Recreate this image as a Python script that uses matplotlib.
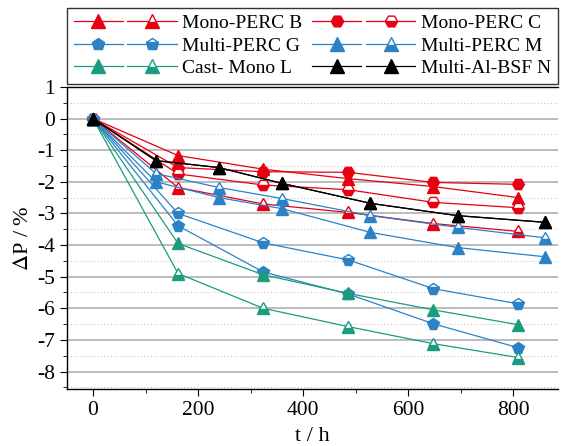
import matplotlib
matplotlib.use('Agg')
import matplotlib.pyplot as plt
from matplotlib.legend_handler import HandlerTuple
from matplotlib.ticker import MultipleLocator

plt.rcParams['font.family'] = ['Liberation Serif', 'DejaVu Serif']
plt.rcParams['mathtext.fontset'] = 'stix'
plt.rcParams['axes.unicode_minus'] = False

# time points (h)
t_a = [0, 162, 324, 486, 648, 810]
t_b = [0, 120, 240, 360, 528, 694, 860]

# power loss (%) -- filled = first measurement set, open = second
b_fill = [0, -1.17, -1.6, -1.9, -2.15, -2.5]
b_open = [0, -2.18, -2.7, -2.97, -3.32, -3.57]
c_fill = [0, -1.55, -1.68, -1.7, -2.02, -2.08]
c_open = [0, -1.75, -2.1, -2.25, -2.65, -2.82]
g_fill = [0, -3.39, -4.85, -5.55, -6.49, -7.25]
g_open = [0, -3.0, -3.93, -4.47, -5.38, -5.86]
m_fill = [0, -2.0, -2.5, -2.85, -3.6, -4.08, -4.37]
m_open = [0, -1.74, -2.18, -2.53, -3.07, -3.44, -3.77]
l_fill = [0, -3.95, -4.94, -5.53, -6.05, -6.52]
l_open = [0, -4.9, -6.0, -6.58, -7.12, -7.56]
n_fill = [0, -1.33, -1.55, -2.05, -2.68, -3.07, -3.28]

labels = ['Mono-PERC B', 'Mono-PERC C', 'Multi-PERC G',
          'Multi-PERC M', 'Cast- Mono L', 'Multi-Al-BSF N']

red = '#e60012'
blue = '#2b82c6'
green = '#1b9c7f'
black = '#000000'

series = [
    (t_a, b_fill, b_open, red, '^'),
    (t_a, c_fill, c_open, red, 'H'),
    (t_a, g_fill, g_open, blue, 'p'),
    (t_b, m_fill, m_open, blue, '^'),
    (t_a, l_fill, l_open, green, '^'),
    (t_b, n_fill, n_fill, black, '^'),
]

fig = plt.figure(figsize=(5.62, 4.46), dpi=100)
ax = fig.add_axes([0.1187, 0.128, 0.874, 0.677])

handles = []
for (t, yf, yo, col, mk), lab in zip(series, labels):
    ms = 9 if mk == '^' else 8.5
    h1, = ax.plot(t, yf, color=col, lw=0.9, marker=mk, markersize=ms,
                  markerfacecolor=col, markeredgecolor=col, zorder=3)
    if col == black:
        h2, = ax.plot(t, yo, color=col, lw=0.9, marker=mk, markersize=ms,
                      markerfacecolor=col, markeredgecolor=col, zorder=3)
    else:
        h2, = ax.plot(t, yo, color=col, lw=0.9, marker=mk, markersize=ms,
                      fillstyle='bottom', markerfacecolor=col,
                      markerfacecoloralt='white', markeredgecolor=col,
                      markeredgewidth=1.0, zorder=3)
    handles.append((h1, h2))

ax.set_xlim(-50, 885)
ax.set_ylim(-8.55, 1)
ax.xaxis.set_major_locator(MultipleLocator(200))
ax.xaxis.set_minor_locator(MultipleLocator(100))
ax.yaxis.set_major_locator(MultipleLocator(1))
ax.yaxis.set_minor_locator(MultipleLocator(0.5))
ax.grid(True, which='major', axis='y', color='#b0b0b0', lw=1.2, zorder=0)
ax.grid(True, which='minor', axis='y', color='#c8c8c8', lw=0.8,
        linestyle=(0, (1, 2)), zorder=0)
ax.set_axisbelow(True)
ax.spines['right'].set_visible(False)
for s in ['left', 'bottom', 'top']:
    ax.spines[s].set_linewidth(1.0)
ax.tick_params(which='both', direction='out', top=False, right=False,
               labelsize=15.5)
ax.tick_params(which='major', length=5)
ax.tick_params(which='minor', length=3)
ax.set_xlabel('t / h', fontsize=16, labelpad=5)
ax.set_ylabel(r'$\Delta$P / %', fontsize=16, labelpad=3)

# legend is filled column-wise, so reorder to read row-wise as in the figure
order = [0, 2, 4, 1, 3, 5]
leg = ax.legend([handles[i] for i in order], [labels[i] for i in order],
                ncol=2, loc='lower left',
                bbox_to_anchor=(0.0, 1.01, 1.0, 0.23), mode='expand',
                handler_map={tuple: HandlerTuple(ndivide=None, pad=0.25)},
                handlelength=5.3, handletextpad=0.3, columnspacing=0.6,
                fontsize=14, frameon=True, fancybox=False, borderpad=0.35,
                labelspacing=0.25, borderaxespad=0.0, markerscale=1.05)
leg.get_frame().set_edgecolor('black')
leg.get_frame().set_linewidth(1.0)

fig.savefig('out.png', dpi=100)
